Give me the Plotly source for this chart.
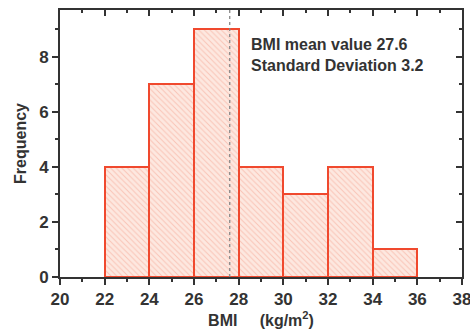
import plotly.graph_objects as go

bin_edges = [22, 24, 26, 28, 30, 32, 34, 36]
counts = [4, 7, 9, 4, 3, 4, 1]
mean_value = 27.6
std_value = 3.2
x_ticks = [20, 22, 24, 26, 28, 30, 32, 34, 36, 38]
y_ticks = [0, 2, 4, 6, 8]

centers = [(a + b) / 2 for a, b in zip(bin_edges[:-1], bin_edges[1:])]
widths = [b - a for a, b in zip(bin_edges[:-1], bin_edges[1:])]

FONT = "Liberation Sans, Arial, sans-serif"
DARK = "#333333"

fig = go.Figure()
fig.add_trace(go.Bar(
    x=centers, y=counts, width=widths,
    marker=dict(color="#fde3da",
                line=dict(color="#f0492e", width=2),
                pattern=dict(shape="\\", fgcolor="#f5a08c", bgcolor="#fde8e0", size=4, solidity=0.25)),
    showlegend=False,
))
fig.add_trace(go.Scatter(x=[20], y=[0], xaxis="x2", yaxis="y2", mode="markers",
                         marker=dict(opacity=0), showlegend=False, hoverinfo="skip"))

fig.add_vline(x=mean_value, line=dict(color="#888888", width=1.3, dash="dot"))

fig.add_annotation(
    x=0.47, y=0.91, xref="paper", yref="paper", xanchor="left", yanchor="top",
    align="left", showarrow=False,
    text=f"<b>BMI mean value {mean_value}</b><br><b>Standard Deviation {std_value}</b>",
    font=dict(family=FONT, size=16, color=DARK),
)

axis_common = dict(showgrid=False, zeroline=False, linecolor=DARK, linewidth=2,
                   tickcolor=DARK, tickwidth=1.5, automargin=False)
fig.update_layout(
    width=470, height=331,
    margin=dict(l=60, r=8, t=10, b=54),
    plot_bgcolor="white", paper_bgcolor="white",
    font=dict(family=FONT, color=DARK),
    bargap=0,
    xaxis=dict(range=[20, 38], tickvals=x_ticks, ticks="outside", ticklen=6,
               showline=True, mirror=False, ticklabeloverflow="allow",
               tickfont=dict(size=17, family=FONT, color=DARK, weight="bold"),
               minor=dict(dtick=1, ticks="outside", ticklen=3, tickcolor=DARK),
               title=dict(text="BMI     (kg/m<sup>2</sup>)", standoff=3,
                          font=dict(size=16, family=FONT, color=DARK, weight="bold")),
               **axis_common),
    yaxis=dict(range=[0, 9.7], tickvals=y_ticks, ticks="outside", ticklen=6,
               showline=True,
               tickfont=dict(size=17, family=FONT, color=DARK, weight="bold"),
               minor=dict(dtick=1, ticks="outside", ticklen=3, tickcolor=DARK),
               title=dict(text="Frequency", standoff=9,
                          font=dict(size=16, family=FONT, color=DARK, weight="bold")),
               **axis_common),
    xaxis2=dict(overlaying="x", side="top", range=[20, 38], tickvals=x_ticks,
                ticks="inside", ticklen=6, showticklabels=False, showline=True,
                minor=dict(dtick=1, ticks="inside", ticklen=3, tickcolor=DARK),
                **axis_common),
    yaxis2=dict(overlaying="y", side="right", range=[0, 9.7], tickvals=y_ticks,
                ticks="inside", ticklen=6, showticklabels=False, showline=True,
                minor=dict(dtick=1, ticks="inside", ticklen=3, tickcolor=DARK),
                **axis_common),
)

fig.write_html("out.html")
